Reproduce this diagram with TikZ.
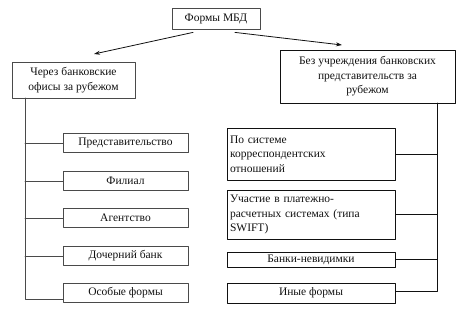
\documentclass[tikz,border=0pt]{standalone}
\usepackage{fontspec}
\setmainfont{Liberation Serif}
\usetikzlibrary{arrows.meta,calc,positioning,shadows}
\definecolor{mbdInk}{HTML}{111111}
\definecolor{mbdLine}{HTML}{4A4A4A}
\definecolor{mbdShade}{HTML}{B8B8B8}
\begin{document}
\begin{tikzpicture}[x=1pt,y=-1pt,>=Stealth,line cap=round,line join=round]
\path[fill=white] (0,0) rectangle (463,314);
\useasboundingbox (0,0) rectangle (463,314);
\tikzset{box/.style={draw=mbdLine,fill=white,line width=0.8pt,inner sep=2pt,text=mbdInk,font=\fontsize{11.5}{14.5}\selectfont,drop shadow={shadow xshift=0.8pt,shadow yshift=-0.8pt,fill=mbdShade,opacity=1}},
  leftbox/.style={box,minimum width=125pt,minimum height=19pt},
  rightbox/.style={box,draw=mbdInk,minimum width=168pt},
  link/.style={draw=mbdInk,line width=0.8pt},
  arr/.style={draw=mbdInk,line width=0.8pt,-{Stealth[length=6pt,width=4pt]}}}
% top level
\node[box,minimum width=88pt,minimum height=21pt] (top) at (216,19) {Формы МБД};
\node[box,minimum width=123pt,minimum height=36pt,align=center] (lhead) at (73.5,80) {Через банковские\\офисы за рубежом};
\node[box,draw=mbdInk,minimum width=175pt,minimum height=53pt,align=center] (rhead) at (367.5,76.5) {Без учреждения банковских\\представительств за\\рубежом};
\coordinate (la) at ($(top.south)+(-23,2.5)$); \coordinate (lb) at (94,54);
\coordinate (ra) at ($(top.south)+(19,2.5)$); \coordinate (rb) at (342,45);
\draw[arr] (la) -- (lb); \draw[arr] (ra) -- (rb);
% left column
\node[leftbox] (lf1) at (125.5,143) {Представительство};
\node[leftbox] (lf2) at (125.5,181) {Филиал};
\node[leftbox] (lf3) at (125.5,218) {Агентство};
\node[leftbox] (lf4) at (125.5,256) {Дочерний банк};
\node[leftbox] (lf5) at (125.5,293) {Особые формы};
\coordinate (lTop) at (25,98); \coordinate (lEnd) at (25,299);
\draw[link,draw=mbdLine] (lTop) -- (lEnd) -- (lEnd -| lf5.west);
\foreach \i in {1,...,4} \draw[link,draw=mbdLine] (lTop |- lf\i.west) -- (lf\i.west);
% right column
\node[rightbox,minimum height=52pt,text width=162pt,align=left] (rf1) at (311,154) {По системе\\корреспондентских\\отношений};
\node[rightbox,minimum height=49pt,text width=162pt,align=left] (rf2) at (311,214.5) {Участие в платежно-\\расчетных системах (типа\\SWIFT)};
\node[rightbox,minimum height=15pt,inner sep=1pt] (rf3) at (311,259.5) {Банки-невидимки};
\node[rightbox,minimum height=20pt] (rf4) at (311,293) {Иные формы};
\coordinate (rTop) at (437,103); \coordinate (rEnd) at (437,291);
\draw[link] (rTop) -- (rEnd) -- (rEnd -| rf4.east);
\foreach \i in {1,2,3} \draw[link] (rTop |- rf\i.east) -- (rf\i.east);
\end{tikzpicture}
\end{document}
